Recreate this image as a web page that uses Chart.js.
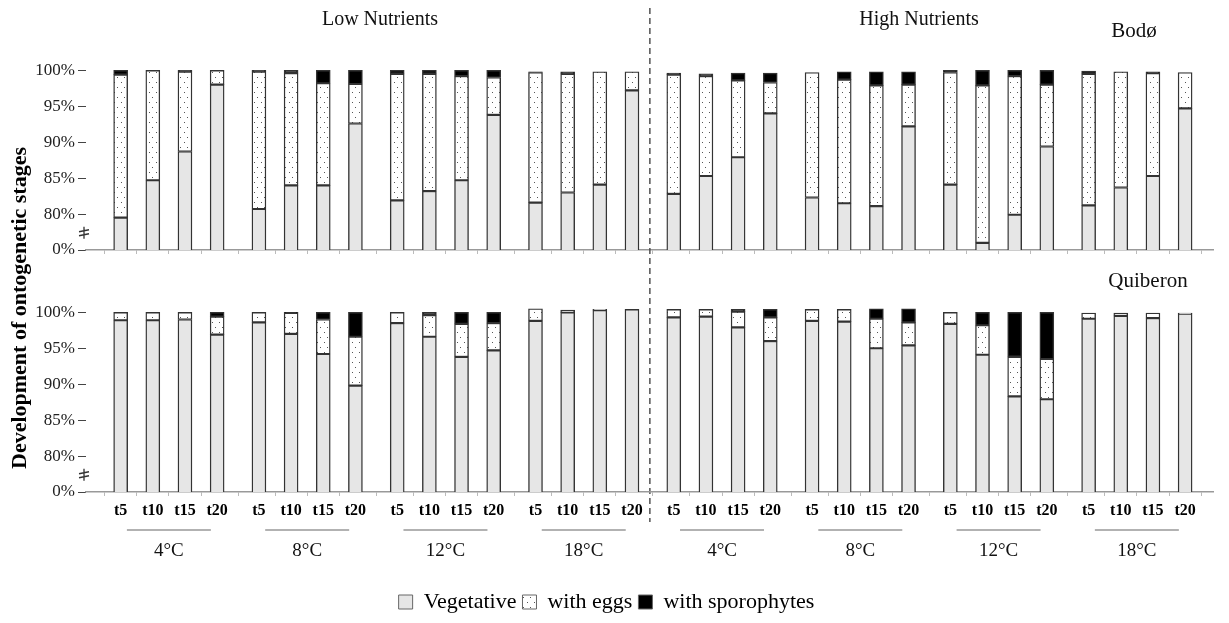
<!DOCTYPE html>
<html>
<head>
<meta charset="utf-8">
<script src="https://cdn.jsdelivr.net/npm/chart.js@4.4.0/dist/chart.umd.min.js"></script>
<style>
  html, body { margin: 0; padding: 0; background: #fff; }
  #wrap { position: relative; width: 1229px; height: 623px; }
  #wrap canvas { position: absolute; left: 0; top: 0; }
</style>
</head>
<body>
<div id="wrap">
  <canvas id="chartBodo" width="1229" height="623"></canvas>
  <canvas id="chartQuib" width="1229" height="623"></canvas>
</div>
<script>
// ---- categories ----
const nutrients = ["Low Nutrients", "High Nutrients"];
const temperatures = ["4°C", "8°C", "12°C", "18°C", "4°C", "8°C", "12°C", "18°C"];
const times = ["t5", "t10", "t15", "t20"];
const sites = ["Bodø", "Quiberon"];
const stageNames = ["Vegetative", "with eggs", "with sporophytes"];
// broken axis: 75 is drawn as "0%"
const yTicks = [75, 80, 85, 90, 95, 100];

// ---- Bodø (top panel), order: LN 4,8,12,18 then HN 4,8,12,18, each t5..t20 ----
const bodoVeg = [79.5, 84.7, 88.7, 98.0, 80.7, 84.0, 84.0, 92.6, 81.9, 83.2, 84.7, 93.8, 81.6, 83.0, 84.1, 97.2,
                 82.8, 85.3, 87.9, 94.0, 82.3, 81.5, 81.1, 92.2, 84.1, 76.0, 79.9, 89.4, 81.2, 83.7, 85.3, 94.7];
const bodoEggs = [19.9, 15.3, 11.1, 2.0, 19.1, 15.6, 14.2, 5.5, 17.6, 16.3, 14.5, 5.2, 18.1, 16.5, 15.7, 2.6,
                  16.6, 13.9, 10.7, 4.3, 17.4, 17.2, 16.8, 5.8, 15.6, 21.9, 19.3, 8.6, 18.3, 16.1, 14.3, 5.0];
const bodoSporo = [0.6, 0, 0.2, 0, 0.2, 0.4, 1.8, 1.9, 0.5, 0.5, 0.8, 1.0, 0.1, 0.3, 0, 0,
                   0.2, 0.3, 1.0, 1.3, 0, 1.1, 1.9, 1.8, 0.3, 2.1, 0.8, 2.0, 0.4, 0, 0.2, 0];

// ---- Quiberon (bottom panel) ----
const quibVeg = [98.9, 98.9, 99.0, 96.9, 98.6, 97.0, 94.2, 89.8, 98.5, 96.6, 93.8, 94.7, 98.8, 100.0, 100.3, 100.4,
                 99.3, 99.4, 97.9, 96.0, 98.8, 98.7, 95.0, 95.4, 98.4, 94.1, 88.3, 87.9, 99.1, 99.5, 99.2, 99.8];
const quibEggs = [1.1, 1.1, 1.0, 2.5, 1.4, 2.9, 4.8, 6.8, 1.5, 3.0, 4.6, 3.8, 1.7, 0.3, 0.1, 0,
                  1.1, 1.0, 2.2, 3.3, 1.6, 1.7, 4.1, 3.2, 1.6, 4.1, 5.5, 5.6, 0.8, 0.4, 0.7, 0.1];
const quibSporo = [0, 0, 0, 0.6, 0, 0.1, 1.0, 3.4, 0, 0.4, 1.6, 1.5, 0, 0, 0, 0,
                   0, 0, 0.3, 1.1, 0, 0, 1.4, 1.9, 0, 1.8, 6.2, 6.5, 0, 0, 0, 0];

// ---- layout helpers ----
const GROUP_STEP = 4.3;
function slotX(i) {
  return Math.floor(i / 4) * GROUP_STEP + (i % 4);
}
const slots = bodoVeg.map((v, i) => slotX(i));

Chart.defaults.font.family = "'Liberation Serif', 'Times New Roman', serif";
Chart.defaults.color = "#222";

// dotted fill for "with eggs"
function dotPattern() {
  const c = document.createElement("canvas");
  c.width = 7; c.height = 10;
  const g = c.getContext("2d");
  g.fillStyle = "#fff";
  g.fillRect(0, 0, 7, 10);
  g.fillStyle = "#555";
  g.fillRect(2, 2, 1, 1);
  g.fillRect(5, 7, 1, 1);
  return g.createPattern(c, "repeat");
}
const eggsFill = dotPattern();

function makeDatasets(veg, eggs, sporo) {
  const fills = ["#e6e6e6", eggsFill, "#000"];
  return [veg, eggs, sporo].map((arr, k) => ({
    label: stageNames[k],
    data: arr.map((v, i) => ({ x: slots[i], y: v })),
    backgroundColor: fills[k],
    borderColor: "#333",
    borderWidth: 1.4,
    borderSkipped: false,
    barThickness: 14
  }));
}

function drawBreak(chart) {
  const ctx = chart.ctx;
  const y = chart.scales.y.getPixelForValue(77.4);
  const x = chart.chartArea.left - 1;
  ctx.save();
  ctx.strokeStyle = "#333";
  ctx.lineWidth = 1.3;
  ctx.beginPath();
  ctx.moveTo(x - 1, y - 6); ctx.lineTo(x - 1, y + 6);
  ctx.moveTo(x - 6, y - 1); ctx.lineTo(x + 4, y - 3);
  ctx.moveTo(x - 6, y + 3); ctx.lineTo(x + 4, y + 1);
  ctx.stroke();
  ctx.restore();
}

function makeOptions(isBottom) {
  return {
    responsive: false,
    animation: false,
    layout: { padding: isBottom ? { left: 0, top: 308, right: 16, bottom: 0 }
                                : { left: 0, top: 66, right: 16, bottom: 363 } },
    plugins: {
      tooltip: { enabled: false },
      legend: {
        display: isBottom,
        position: "bottom",
        labels: {
          boxWidth: 14, boxHeight: 14, padding: 6,
          color: "#000",
          font: { size: 22 },
          generateLabels(chart) {
            const items = Chart.defaults.plugins.legend.labels.generateLabels(chart);
            items.forEach(it => { it.lineWidth = 1; it.strokeStyle = "#666"; });
            return items;
          }
        }
      }
    },
    scales: {
      x: {
        type: "linear",
        stacked: true,
        min: -0.53,
        max: 33.42,
        afterBuildTicks: s => { s.ticks = slots.map(v => ({ value: v })); },
        afterFit: s => { s.height = isBottom ? 93 : 10; },
        border: { color: "#999", width: 1.5 },
        grid: { drawOnChartArea: false, tickLength: 4, color: "#bbb" },
        ticks: {
          display: isBottom,
          autoSkip: false,
          maxRotation: 0,
          padding: 5,
          color: "#000",
          font: { size: 16, weight: "bold" },
          callback: (v, i) => times[i % 4]
        }
      },
      y: {
        stacked: true,
        min: 75,
        max: 100.6,
        afterBuildTicks: s => { s.ticks = yTicks.map(v => ({ value: v })); },
        afterFit: s => { s.width = 86; },
        border: { display: false },
        grid: { drawOnChartArea: false, tickLength: 8, color: "#444" },
        ticks: {
          padding: 3,
          color: "#222",
          font: { size: 17 },
          callback: v => (v === 75 ? "0%" : v + "%")
        }
      }
    }
  };
}

// texts and dashed separator for the whole figure
const figureDecor = {
  id: "figureDecor",
  afterDraw(chart) {
    const ctx = chart.ctx;
    drawBreak(chart);
    ctx.save();
    ctx.fillStyle = "#111";
    ctx.textAlign = "center";
    ctx.textBaseline = "middle";
    ctx.font = "20px 'Liberation Serif'";
    ctx.fillText(nutrients[0], 380, 20);
    ctx.fillText(nutrients[1], 919, 20);
    ctx.font = "21px 'Liberation Serif'";
    ctx.fillText(sites[0], 1134, 31);
    ctx.fillText(sites[1], 1148, 281);

    // dashed line between nutrient levels
    const xs = chart.scales.x;
    const xd = xs.getPixelForValue((slotX(15) + slotX(16)) / 2) - 3;
    ctx.strokeStyle = "#444";
    ctx.lineWidth = 1.4;
    ctx.setLineDash([6, 4]);
    ctx.beginPath();
    ctx.moveTo(xd, 8);
    ctx.lineTo(xd, 522);
    ctx.stroke();
    ctx.setLineDash([]);

    // y axis title
    ctx.translate(20, 308);
    ctx.rotate(-Math.PI / 2);
    ctx.fillStyle = "#000";
    ctx.font = "bold 22px 'Liberation Serif'";
    ctx.fillText("Development of ontogenetic stages", 0, 0);
    ctx.restore();
  }
};

// temperature groups under the bottom axis
const groupDecor = {
  id: "groupDecor",
  afterDraw(chart) {
    const ctx = chart.ctx;
    const xs = chart.scales.x;
    drawBreak(chart);
    ctx.save();
    ctx.textAlign = "center";
    ctx.textBaseline = "middle";
    ctx.font = "19px 'Liberation Serif'";
    temperatures.forEach((t, g) => {
      const x0 = xs.getPixelForValue(slotX(g * 4));
      const x1 = xs.getPixelForValue(slotX(g * 4 + 3));
      const cx = (x0 + x1) / 2;
      ctx.strokeStyle = "#999";
      ctx.lineWidth = 1.5;
      ctx.beginPath();
      ctx.moveTo(cx - 42, 530);
      ctx.lineTo(cx + 42, 530);
      ctx.stroke();
      ctx.fillStyle = "#111";
      ctx.fillText(t, cx, 551);
    });
    ctx.restore();
  }
};

new Chart(document.getElementById("chartBodo"), {
  type: "bar",
  data: { datasets: makeDatasets(bodoVeg, bodoEggs, bodoSporo) },
  options: makeOptions(false),
  plugins: [figureDecor]
});

new Chart(document.getElementById("chartQuib"), {
  type: "bar",
  data: { datasets: makeDatasets(quibVeg, quibEggs, quibSporo) },
  options: makeOptions(true),
  plugins: [groupDecor]
});
</script>
</body>
</html>
